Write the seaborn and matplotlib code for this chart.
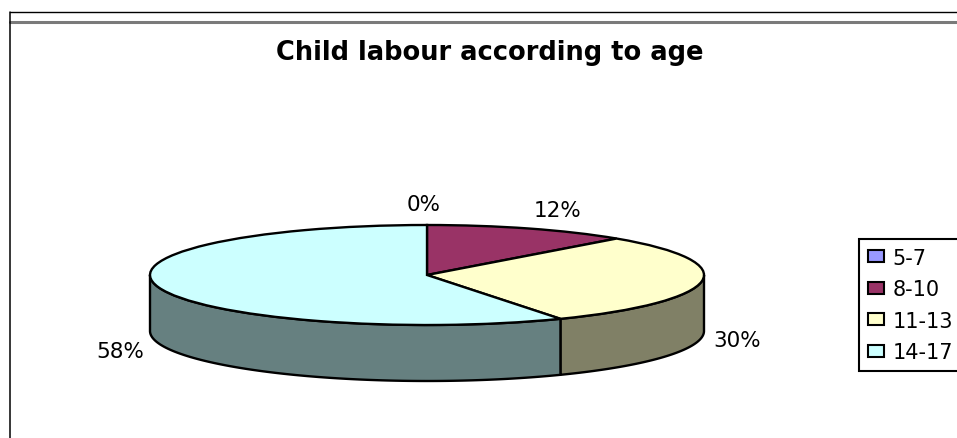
import numpy as np
import matplotlib
matplotlib.use("Agg")
import matplotlib.pyplot as plt
import matplotlib.patches as mpatches
from matplotlib.lines import Line2D
import seaborn as sns

# ---- data ----
age_groups = ["5-7", "8-10", "11-13", "14-17"]
shares = [0, 12, 30, 58]
top_colors = ["#9999FF", "#993366", "#FFFFCC", "#CCFFFF"]
title = "Child labour according to age"

sns.set_theme(style="white")
plt.rcParams["font.family"] = ["DejaVu Sans"]
plt.rcParams["text.color"] = "black"

W, H = 957, 439
fig = plt.figure(figsize=(W / 100, H / 100), dpi=100)
fig.patch.set_facecolor("white")

# pie geometry (pixels): centre, horizontal / vertical radius, wall depth
cx, cy, rx, ry, depth = 427, 276, 277, 50, 56

ax = fig.add_axes([0, 0, 1, 1])
values = np.asarray(shares, dtype=float)
wedges, _ = ax.pie(values, colors=top_colors, startangle=90, counterclock=False,
                   radius=1, center=(0, 0),
                   wedgeprops=dict(edgecolor="black", linewidth=1.7))
for w in wedges:
    w.set_zorder(3)
ax.set_aspect("auto")
ax.set_xlim(-cx / rx, (W - cx) / rx)
ax.set_ylim((cy - H) / ry, cy / ry)
ax.axis("off")

# side walls of the 3-D pie (front half only)
d = depth / ry
fractions = values / values.sum()
bounds = 90 - 360 * np.concatenate([[0], np.cumsum(fractions)])
side_colors = [tuple(0.5 * c for c in sns.color_palette([col])[0]) for col in top_colors]
for i in range(len(values)):
    lo, hi = bounds[i + 1], bounds[i]
    for k in range(-2, 2):
        f_lo, f_hi = max(lo, -180 + 360 * k), min(hi, 360 * k)
        if f_hi - f_lo <= 0:
            continue
        th = np.radians(np.linspace(f_lo, f_hi, 200))
        xs = np.concatenate([np.cos(th), np.cos(th[::-1])])
        ys = np.concatenate([np.sin(th), np.sin(th[::-1]) - d])
        ax.fill(xs, ys, facecolor=side_colors[i], edgecolor="black",
                linewidth=1.7, zorder=2, joinstyle="round")

# percentage labels
label_pos = [(-0.011, 1.42), (0.473, 1.30), (1.119, -1.30), (-1.108, -1.52)]
for v, (lx, ly) in zip(values, label_pos):
    ax.text(lx, ly, f"{v / values.sum() * 100:.0f}%", ha="center", va="center",
            fontsize=15.5, color="black")

# title
fig.text(490 / W, 1 - 53 / H, title, ha="center", va="center",
         fontsize=18.5, fontweight="bold", color="black")

# legend
handles = [mpatches.Patch(facecolor=c, edgecolor="black", linewidth=1.5) for c in top_colors]
leg = fig.legend(handles, age_groups, loc="upper left",
                 bbox_to_anchor=(859 / W, 1 - 240 / H), bbox_transform=fig.transFigure,
                 borderaxespad=0, fontsize=15, frameon=True, fancybox=False,
                 framealpha=1, edgecolor="black", handlelength=0.78,
                 handleheight=0.5, handletextpad=0.42, borderpad=0.42,
                 labelspacing=0.55)
leg.get_frame().set_linewidth(1.5)
for t in leg.get_texts():
    t.set_color("black")

# chart-area frame lines
fig.add_artist(Line2D([9.5 / W, 1], [1 - 13.3 / H, 1 - 13.3 / H],
                      transform=fig.transFigure, color="black", linewidth=1.0))
fig.add_artist(Line2D([9.5 / W, 1], [1 - 22.5 / H, 1 - 22.5 / H],
                      transform=fig.transFigure, color="#7a7a7a", linewidth=2.2))
fig.add_artist(Line2D([9.5 / W, 9.5 / W], [1 - 13.3 / H, 0],
                      transform=fig.transFigure, color="black", linewidth=1.1))

fig.savefig("out.png", dpi=100)
